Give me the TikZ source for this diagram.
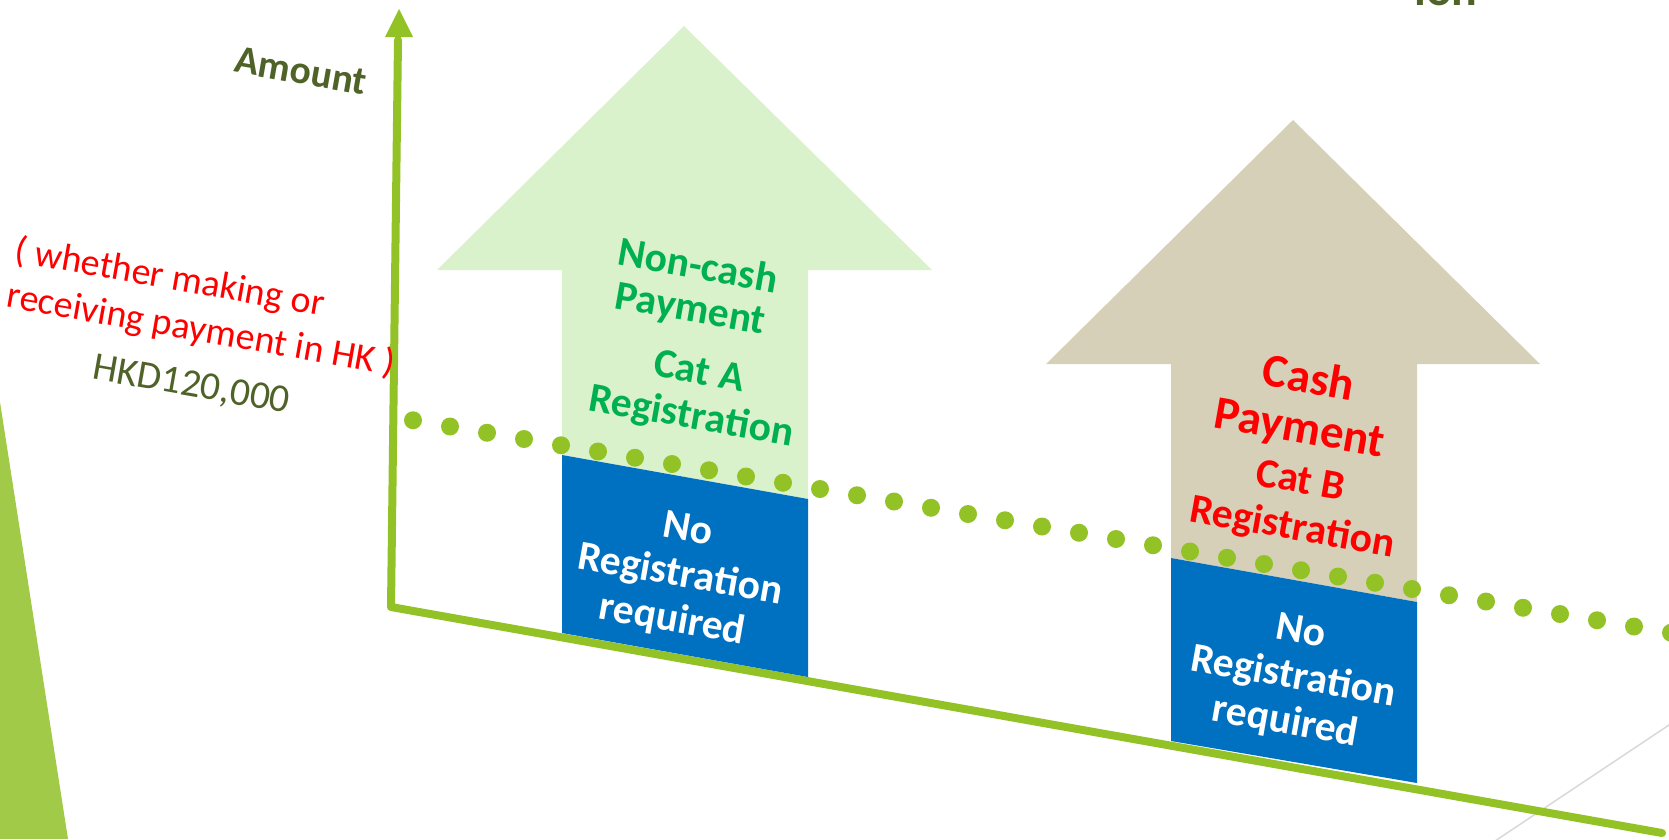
\documentclass[tikz,border=0pt]{standalone}
\usepackage{fontspec}
\setmainfont{Carlito}
\usepackage{tikz}
\usetikzlibrary{arrows.meta,calc}

\definecolor{axisgreen}{RGB}{146,194,38}
\definecolor{wedgegreen}{RGB}{161,202,72}
\definecolor{paleGreen}{RGB}{218,242,203}
\definecolor{paleBeige}{RGB}{214,208,184}
\definecolor{regBlue}{RGB}{0,112,192}
\definecolor{textGreen}{RGB}{0,176,80}
\definecolor{darkOlive}{RGB}{79,98,40}
\definecolor{thinGray}{RGB}{217,217,217}

\begin{document}
\begin{tikzpicture}
[x = 1pt, y = -1pt]
\tikzset{
	tilted/.style = {rotate = -10, inner sep = 0, align = center},
	axis label/.style = {tilted, text = darkOlive, font = \bfseries\fontsize{39.5}{44}\selectfont},
	value label/.style = {tilted, text = darkOlive, font = \fontsize{39.5}{44}\selectfont},
	note label/.style = {tilted, align = left, text = red, font = \fontsize{38}{46}\selectfont},
	pay label/.style = {tilted, font = \bfseries\fontsize{41.5}{45}\selectfont},
	box label/.style = {tilted, text = white, font = \bfseries\fontsize{41.5}{46}\selectfont},
	dot/.style = {fill = axisgreen},
}
\useasboundingbox (0,0) rectangle (1669,839);

% background shapes
\fill [wedgegreen] (0,402) -- (68,839) -- (0,839) -- cycle;
\draw [thinGray, line width = 1.5pt] (1480,851) -- (1690,711);

% axes
\draw [axisgreen, line width = 8pt, line join = round, line cap = round] (1662,833) -- (391,607) -- (398,40);
\fill [axisgreen] (399,9) -- (413,37) -- (385,37) -- cycle;

% the two arrows
\fill [paleGreen] (684,26) -- (932,270) -- (808,270) -- (808,499) -- (562,455) -- (562,270) -- (437,270) -- cycle;
\fill [paleBeige] (1293,120) -- (1540,364) -- (1417,364) -- (1417,602) -- (1171,558) -- (1171,364) -- (1046,364) -- cycle;
\fill [regBlue] (562,455) -- (808,499) -- (808,677) -- (562,633) -- cycle;
\fill [regBlue] (1171,558) -- (1417,602) -- (1417,783) -- (1171,741) -- cycle;

% threshold line
\foreach \k in {-3,...,31}
	\fill [dot] ({524+37*\k},{439+6.25*\k}) circle [radius = 9pt];

\node (title) [anchor = base, inner sep = 0, text = darkOlive, font = \bfseries\fontsize{48}{48}\selectfont] at (1446,5) {ion};
\node (amount) [axis label] at (301,71) {Amount};
\node (note) [note label] at (205,308) {( whether making or\\receiving payment in HK )};
\node (limit) [value label] at (191,386) {HKD120,000};

\node (noncash) [pay label, text = textGreen, font = \bfseries\fontsize{41.5}{43}\selectfont] at (694,289) {Non-cash\\Payment};
\node (catA) [pay label, text = textGreen] at (695,396) {Cat A\\Registration};
\node (cash) [pay label, text = red, font = \bfseries\fontsize{47}{50}\selectfont] at (1304,405) {Cash\\Payment};
\node (catB) [pay label, text = red, font = \bfseries\fontsize{41.5}{47}\selectfont] at (1296,506) {Cat B\\Registration};

\node (noregA) [box label] at (680,576) {No\\Registration\\required};
\node (noregB) [box label] at (1293,678) {No\\Registration\\required};

\end{tikzpicture}
\end{document}
